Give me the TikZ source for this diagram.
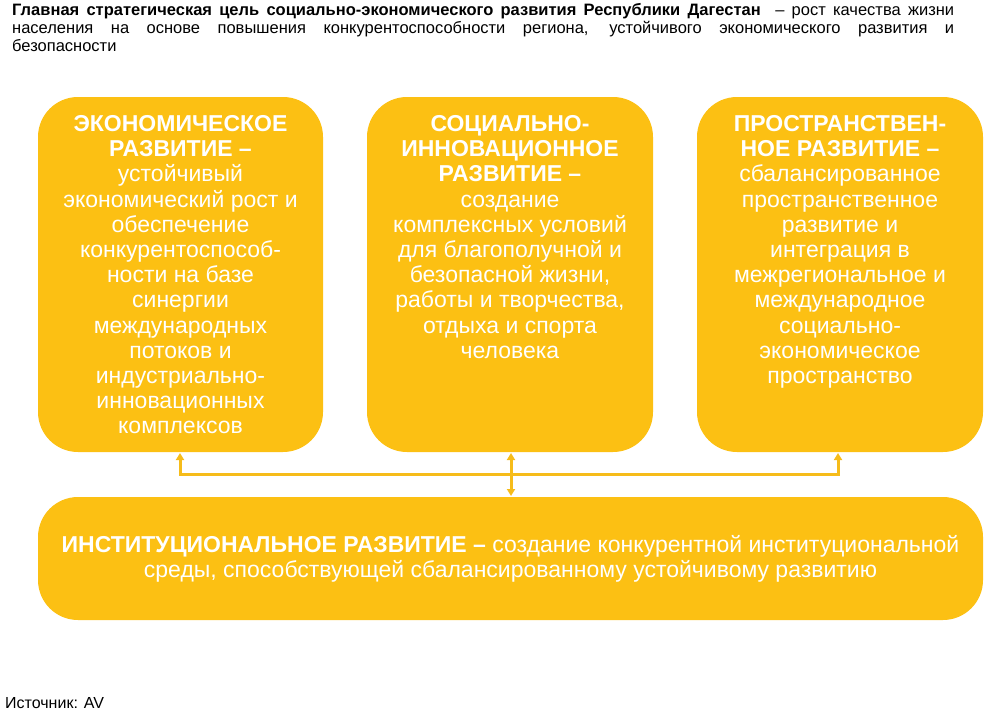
\documentclass[tikz,border=0pt]{standalone}
\usepackage{fontspec}
\setmainfont{Liberation Sans}
\usetikzlibrary{arrows.meta}
\definecolor{gold}{HTML}{FCC013}
\definecolor{linegold}{HTML}{F6BC1A}
\begin{document}
\begin{tikzpicture}[x=1pt,y=-1pt,
  card/.style={fill=gold,rounded corners=40pt},
  cardtext/.style={text=white,align=center,font=\fontsize{23}{25.2}\selectfont,anchor=north},
  conn/.style={draw=linegold,line width=3pt,-{Triangle[width=8pt,length=7pt]}}]
\useasboundingbox (0,0) rectangle (1000,717);
\node[anchor=north west,text width=942pt,align=justify,inner sep=0pt,font=\fontsize{16.5}{18}\selectfont] (title) at (12,3)
 {\textbf{Главная стратегическая цель социально-экономического развития Республики Дагестан} \ – рост качества жизни\linebreak населения на основе повышения конкурентоспособности региона, устойчивого экономического развития и\linebreak безопасности};
\fill[card] (38,97) rectangle (323,452);
\fill[card] (367,97) rectangle (653,452);
\fill[card] (697,97) rectangle (983,452);
\fill[card] (38,497) rectangle (983,620);
\node[cardtext] (econ) at (180.5,112) {\textbf{ЭКОНОМИЧЕСКОЕ}\\\textbf{РАЗВИТИЕ –}\\устойчивый\\экономический рост и\\обеспечение\\конкурентоспособ-\\ности на базе\\синергии\\международных\\потоков и\\индустриально-\\инновационных\\комплексов};
\node[cardtext] (soc) at (510,112) {\textbf{СОЦИАЛЬНО-}\\\textbf{ИННОВАЦИОННОЕ}\\\textbf{РАЗВИТИЕ –}\\создание\\комплексных условий\\для благополучной и\\безопасной жизни,\\работы и творчества,\\отдыха и спорта\\человека};
\node[cardtext] (space) at (840,112) {\textbf{ПРОСТРАНСТВЕН-}\\\textbf{НОЕ РАЗВИТИЕ –}\\сбалансированное\\пространственное\\развитие и\\интеграция в\\межрегиональное и\\международное\\социально-\\экономическое\\пространство};
\node[cardtext,anchor=center] (inst) at (510.5,559) {\textbf{ИНСТИТУЦИОНАЛЬНОЕ РАЗВИТИЕ –} создание конкурентной институциональной\\среды, способствующей сбалансированному устойчивому развитию};
\coordinate (jl) at (180,474);
\coordinate (jr) at (838,474);
\draw[draw=linegold,line width=3pt] (jl) -- (jr);
\draw[conn] (180,475.5) -- (180,453);
\draw[conn] (838,475.5) -- (838,453);
\draw[conn,{Triangle[width=8pt,length=7pt]}-{Triangle[width=8pt,length=7pt]}] (511,453) -- (511,496);
\node[anchor=west,inner sep=0pt,font=\fontsize{16}{18}\selectfont] (src) at (5,703) {Источник: AV};
\end{tikzpicture}
\end{document}
